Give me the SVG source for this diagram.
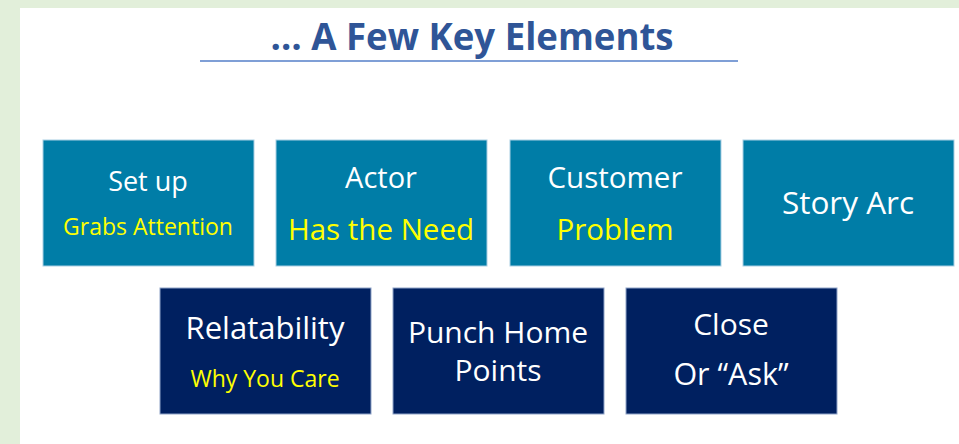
<svg xmlns="http://www.w3.org/2000/svg" width="959" height="444" viewBox="0 0 959 444">
<style>
.bg{fill:#E2EFDA}
.teal{fill:#007DA7;stroke:#A9CFE3;stroke-width:1}
.navy{fill:#002060;stroke:#8FA3C8;stroke-width:1}
text{font-family:"Open Sans","Liberation Sans",sans-serif;text-anchor:middle}
.w{fill:#FFFFFF}
.y{fill:#FFFF00}
.title{fill:#2F5597;font-weight:bold;font-size:37px}
</style>
<defs>
<filter id="sh" x="-5%" y="-200%" width="110%" height="500%">
<feGaussianBlur stdDeviation="2"/>
</filter>
</defs>
<rect x="0" y="0" width="959" height="444" class="bg"/>
<rect x="20" y="8" width="939" height="436" fill="#FFFFFF"/>
<g id="title">
<line x1="202" y1="64" x2="738" y2="64" stroke="#C8C8C8" stroke-width="3" filter="url(#sh)"/>
<line x1="200" y1="61" x2="738" y2="61" stroke="#7F9FD6" stroke-width="2"/>
<text x="472" y="50" class="title" textLength="403" lengthAdjust="spacingAndGlyphs">… A Few Key Elements</text>
</g>
<g id="connectors"></g>
<g id="setup">
<rect x="43" y="140" width="211" height="126" class="teal"/>
<text x="148" y="191" class="w" font-size="27">Set up</text>
<text x="148" y="235" class="y" font-size="23">Grabs Attention</text>
</g>
<g id="actor">
<rect x="276" y="140" width="211" height="126" class="teal"/>
<text x="381" y="188" class="w" font-size="29">Actor</text>
<text x="381" y="240" class="y" font-size="29.5">Has the Need</text>
</g>
<g id="customer">
<rect x="510" y="140" width="211" height="126" class="teal"/>
<text x="615" y="188" class="w" font-size="29.5">Customer</text>
<text x="615" y="240" class="y" font-size="29.5">Problem</text>
</g>
<g id="storyarc">
<rect x="743" y="140" width="211" height="126" class="teal"/>
<text x="848" y="214" class="w" font-size="31.5">Story Arc</text>
</g>
<g id="relatability">
<rect x="160" y="288" width="211" height="126" class="navy"/>
<text x="265" y="339" class="w" font-size="31">Relatability</text>
<text x="265" y="387" class="y" font-size="23">Why You Care</text>
</g>
<g id="punch">
<rect x="393" y="288" width="211" height="126" class="navy"/>
<text x="498" y="343" class="w" font-size="30">Punch Home</text>
<text x="498" y="381" class="w" font-size="30">Points</text>
</g>
<g id="close">
<rect x="626" y="288" width="211" height="126" class="navy"/>
<text x="731" y="335" class="w" font-size="30">Close</text>
<text x="731" y="385" class="w" font-size="30.5">Or “Ask”</text>
</g>
</svg>
